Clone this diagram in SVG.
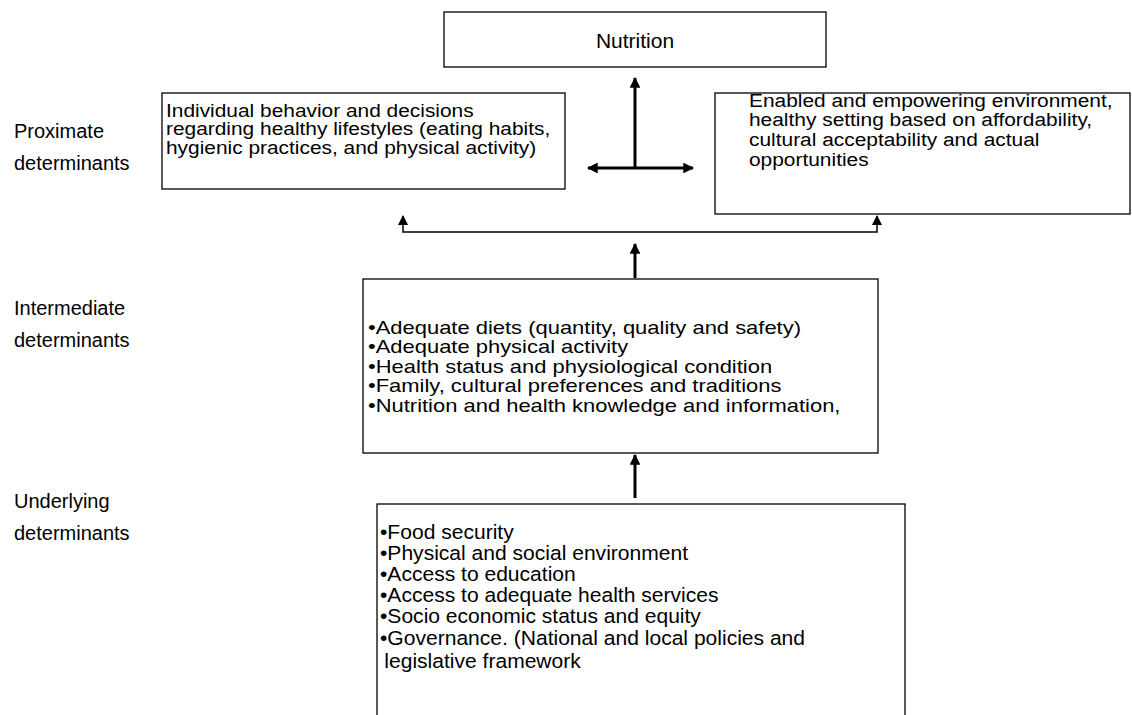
<svg xmlns="http://www.w3.org/2000/svg" width="1132" height="715" viewBox="0 0 1132 715">
<style>
text{font-family:"Liberation Sans",Arial,sans-serif;fill:#000;font-size:20px}
.pl{font-size:18.5px}
.pr{font-size:19px}
.im{font-size:18px}
.ul{font-size:19.5px}
.box{fill:#fff;stroke:#000;stroke-width:1.3}
.thick{stroke:#000;stroke-width:3;fill:none}
.thin{stroke:#000;stroke-width:1.5;fill:none}
</style>
<defs>
<marker id="ah" viewBox="0 0 10 10" refX="9" refY="5" markerWidth="3.6" markerHeight="3.6" orient="auto-start-reverse" markerUnits="strokeWidth"><path d="M0,0 L10,5 L0,10 z" fill="#000"/></marker>
<marker id="ahs" viewBox="0 0 10 10" refX="9" refY="5" markerWidth="7" markerHeight="7" orient="auto-start-reverse" markerUnits="strokeWidth"><path d="M0,0 L10,5 L0,10 z" fill="#000"/></marker>
</defs>
<g id="labels">
<text x="14" y="138">Proximate</text>
<text x="14" y="170">determinants</text>
<text x="14" y="315">Intermediate</text>
<text x="14" y="347">determinants</text>
<text x="14" y="508">Underlying</text>
<text x="14" y="540">determinants</text>
</g>
<g id="nutrition">
<rect class="box" x="444" y="12" width="382" height="55"/>
<text x="635" y="48" text-anchor="middle" style="font-size:21px">Nutrition</text>
</g>
<g id="individual">
<rect class="box" x="162" y="93" width="403" height="96"/>
<g transform="translate(166,0) scale(1.13,1)">
<text class="pl" x="0" y="117">Individual behavior and decisions</text>
<text class="pl" x="0" y="135.5">regarding healthy lifestyles (eating habits,</text>
<text class="pl" x="0" y="154">hygienic practices, and physical activity)</text>
</g>
</g>
<g id="environment">
<rect class="box" x="715" y="93" width="415" height="121"/>
<g transform="translate(749,0) scale(1.1,1)">
<text class="pr" x="0" y="107">Enabled and empowering environment,</text>
<text class="pr" x="0" y="126.5">healthy setting based on affordability,</text>
<text class="pr" x="0" y="146">cultural acceptability and actual</text>
<text class="pr" x="0" y="166">opportunities</text>
</g>
</g>
<g id="intermediate">
<rect class="box" x="363" y="279" width="515" height="174"/>
<g transform="translate(368,0) scale(1.22,1)">
<text class="im" x="0" y="334">•Adequate diets (quantity, quality and safety)</text>
<text class="im" x="0" y="353.5">•Adequate physical activity</text>
<text class="im" x="0" y="373">•Health status and physiological condition</text>
<text class="im" x="0" y="392.5">•Family, cultural preferences and traditions</text>
<text class="im" x="0" y="412">•Nutrition and health knowledge and information,</text>
</g>
</g>
<g id="underlying">
<rect class="box" x="377" y="504" width="528" height="220"/>
<g transform="translate(380,0) scale(1.08,1)">
<text class="ul" x="0" y="539">•Food security</text>
<text class="ul" x="0" y="560">•Physical and social environment</text>
<text class="ul" x="0" y="581">•Access to education</text>
<text class="ul" x="0" y="602">•Access to adequate health services</text>
<text class="ul" x="0" y="623">•Socio economic status and equity</text>
<text class="ul" x="0" y="645">•Governance. (National and local policies and</text>
<text class="ul" x="4" y="668">legislative framework</text>
</g>
</g>
<g id="connectors">
<line class="thick" x1="635" y1="168" x2="635" y2="78" marker-end="url(#ah)"/>
<line class="thick" x1="588" y1="168" x2="693" y2="168" marker-start="url(#ah)" marker-end="url(#ah)"/>
<polyline class="thin" points="403,216 403,232 877,232 877,216" marker-start="url(#ahs)" marker-end="url(#ahs)"/>
<line class="thick" x1="635" y1="278" x2="635" y2="244" marker-end="url(#ah)"/>
<line class="thick" x1="635" y1="498" x2="635" y2="455" marker-end="url(#ah)"/>
</g>
</svg>
